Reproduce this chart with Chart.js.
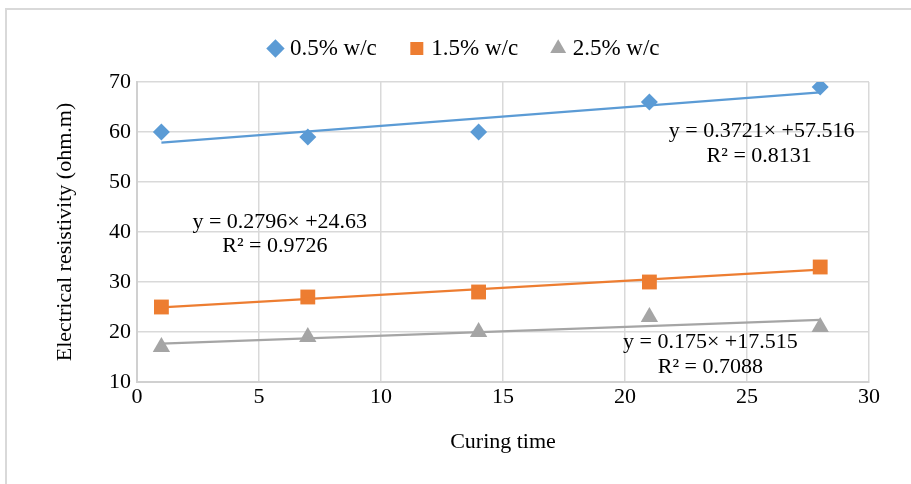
<!DOCTYPE html>
<html>
<head>
<meta charset="utf-8">
<script src="https://cdn.jsdelivr.net/npm/chart.js@4"></script>
<style>
  html, body { margin: 0; padding: 0; background: #fff; overflow: hidden; }
  #wrap { position: relative; width: 911px; height: 484px; }
  #frame { position: absolute; left: 5px; top: 8px; width: 1000px; height: 1000px;
           border: 2px solid #d9d9d9; pointer-events: none; }
  canvas { position: absolute; left: 0; top: 0; }
</style>
</head>
<body>
<div id="wrap">
  <canvas id="chart" width="911" height="484"></canvas>
  <div id="frame"></div>
</div>
<script>
// curing time (days) and resistivity per w/c ratio
const curingDays = [1, 7, 14, 21, 28];
const seriesNames = ["0.5% w/c", "1.5% w/c", "2.5% w/c"];
const wc05 = [60, 59, 60, 66, 69];
const wc15 = [25, 27, 28, 30, 33];
const wc25 = [17, 19, 20, 23, 21];
const xTicks = [0, 5, 10, 15, 20, 25, 30];
const yTicks = [10, 20, 30, 40, 50, 60, 70];

const colors = ["#5B9BD5", "#ED7D31", "#A5A5A5"];
const markers = ["rectRot", "rect", "triangle"];
const markerSizes = [8.5, 10.5, 10];
const FONT = "'Liberation Serif', 'Times New Roman', serif";

// least squares fit, like Excel's linear trendline
function linFit(xs, ys) {
  const n = xs.length;
  const mx = xs.reduce((a, b) => a + b, 0) / n;
  const my = ys.reduce((a, b) => a + b, 0) / n;
  let sxy = 0, sxx = 0;
  for (let i = 0; i < n; i++) {
    sxy += (xs[i] - mx) * (ys[i] - my);
    sxx += (xs[i] - mx) * (xs[i] - mx);
  }
  const slope = sxy / sxx;
  return { slope, intercept: my - slope * mx };
}

const allSeries = [wc05, wc15, wc25];
const fits = allSeries.map((ys) => linFit(curingDays, ys));

const datasets = [];
allSeries.forEach((ys, i) => {
  datasets.push({
    label: seriesNames[i],
    data: curingDays.map((x, j) => ({ x: x, y: ys[j] })),
    backgroundColor: colors[i],
    borderColor: colors[i],
    pointStyle: markers[i],
    pointRadius: markerSizes[i],
    pointHoverRadius: markerSizes[i],
    borderWidth: 0,
    showLine: false,
    order: 2,
  });
});
fits.forEach((f, i) => {
  const x0 = curingDays[0], x1 = curingDays[curingDays.length - 1];
  datasets.push({
    label: "trend",
    data: [{ x: x0, y: f.slope * x0 + f.intercept }, { x: x1, y: f.slope * x1 + f.intercept }],
    borderColor: colors[i],
    borderWidth: 2.2,
    pointRadius: 0,
    showLine: true,
    order: 1,
  });
});

// equation labels (placed in data units)
const eqTexts = [
  ["y = 0.3721× +57.516", "R² = 0.8131"],
  ["y = 0.2796× +24.63", "R² = 0.9726"],
  ["y = 0.175× +17.515", "R² = 0.7088"],
];
const eqPos = [
  [[25.6, 60.1], [25.5, 55.1]],
  [[5.85, 42.0], [5.65, 37.1]],
  [[23.5, 18.0], [23.5, 12.9]],
];

const equationPlugin = {
  id: "equations",
  afterDatasetsDraw(chart) {
    const ctx = chart.ctx;
    const xs = chart.scales.x, ys = chart.scales.y;
    ctx.save();
    ctx.font = "22px " + FONT;
    ctx.fillStyle = "#000";
    ctx.textAlign = "center";
    ctx.textBaseline = "middle";
    eqTexts.forEach((lines, i) => {
      lines.forEach((t, k) => {
        const p = eqPos[i][k];
        ctx.fillText(t, xs.getPixelForValue(p[0]), ys.getPixelForValue(p[1]));
      });
    });
    ctx.restore();
  },
};

// more room under the legend, and nudge it a little to the right
const legendSpace = {
  id: "legendSpace",
  beforeInit(chart) {
    const fit = chart.legend.fit;
    chart.legend.fit = function () {
      fit.call(this);
      this.height += 12;
      if (this.lineWidths) this.lineWidths[0] -= 15;
    };
  },
};

new Chart(document.getElementById("chart"), {
  type: "scatter",
  data: { datasets: datasets },
  plugins: [equationPlugin, legendSpace],
  options: {
    responsive: false,
    animation: false,
    layout: { padding: { left: 48, right: 42, top: 0, bottom: 25 } },
    plugins: {
      tooltip: { enabled: false },
      legend: {
        position: "top",
        labels: {
          filter: (item) => item.text !== "trend",
          usePointStyle: true,
          boxHeight: 13,
          boxWidth: 6,
          padding: 37,
          color: "#000",
          font: { family: FONT, size: 23 },
        },
      },
    },
    scales: {
      x: {
        type: "linear",
        min: 0,
        max: 30,
        afterBuildTicks: (s) => { s.ticks = xTicks.map((v) => ({ value: v })); },
        afterFit: (s) => { s.height = 77; },
        grid: { color: "#d9d9d9", lineWidth: 1.5, drawTicks: false },
        border: { color: "#d0d0d0", width: 2 },
        ticks: { color: "#000", padding: 2, font: { family: FONT, size: 22 } },
        title: { display: true, text: "Curing time", color: "#000", font: { family: FONT, size: 22 } },
      },
      y: {
        min: 10,
        max: 70,
        afterBuildTicks: (s) => { s.ticks = yTicks.map((v) => ({ value: v })); },
        afterFit: (s) => { s.width = 89; },
        grid: { color: "#d9d9d9", lineWidth: 1.5, drawTicks: false },
        border: { color: "#d0d0d0", width: 2 },
        ticks: { color: "#000", padding: 6, font: { family: FONT, size: 22 } },
        title: { display: true, text: "Electrical resistivity (ohm.m)", color: "#000", font: { family: FONT, size: 22 } },
      },
    },
  },
});
</script>
</body>
</html>
